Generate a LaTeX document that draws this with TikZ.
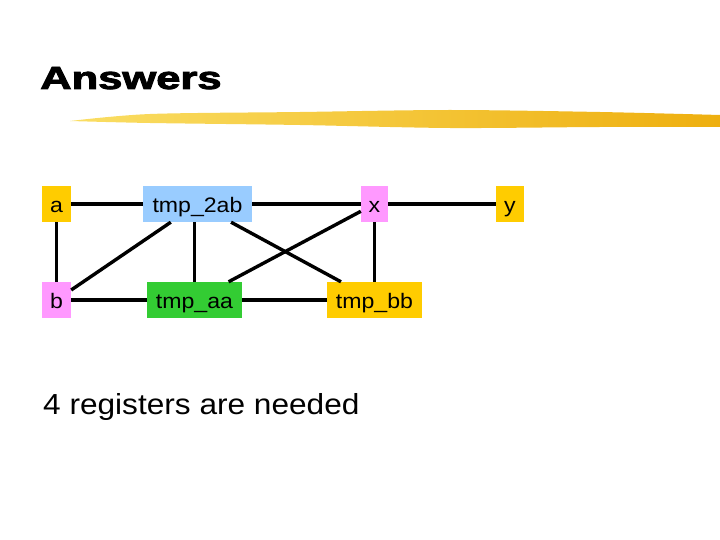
\documentclass[tikz,border=0pt]{standalone}
\usepackage{fontspec}
\setmainfont{Liberation Sans}
\newfontfamily\titlefont[FakeBold=2.5]{Liberation Sans Bold}
\usepackage{graphicx}
\definecolor{cyel}{HTML}{FFCC00}
\definecolor{cblue}{HTML}{99CCFF}
\definecolor{cpink}{HTML}{FF99FF}
\definecolor{cgreen}{HTML}{33CC33}
\newcommand{\sxlab}[1]{\scalebox{1.1}[1]{#1}}
\begin{document}
\begin{tikzpicture}[x=1pt,y=-1pt,
  regbox/.style={rectangle, inner sep=0pt, minimum height=36pt, text=black,
    text height=20pt, text depth=4pt, font=\fontsize{21}{21}\selectfont},
  edge/.style={line width=3.4pt, black}]
\useasboundingbox (0,0) rectangle (720,540);
% brush stroke
\shade[left color={rgb,255:red,250;green,222;blue,100}, middle color={rgb,255:red,245;green,198;blue,35}, right color={rgb,255:red,238;green,175;blue,15}]
  plot[smooth] coordinates {(70,121) (150,114) (300,112) (450,110) (600,112) (720,115)}
  -- plot[smooth] coordinates {(720,127) (600,127) (450,128) (300,125) (150,123) (70,121)} -- cycle;
% title
\node[anchor=base west, inner sep=0pt, font=\fontsize{32}{32}\titlefont] (title) at (40,89) {\scalebox{1.36}[1]{Answers}};
% nodes
\node[regbox, fill=cyel, minimum width=29pt] (a) at (56.5,204) {\sxlab{a}};
\node[regbox, fill=cblue, minimum width=109pt] (t2ab) at (197.5,204) {\sxlab{tmp\_2ab}};
\node[regbox, fill=cpink, minimum width=27pt] (x) at (374.5,204) {\sxlab{x}};
\node[regbox, fill=cyel, minimum width=28pt] (y) at (510,204) {\sxlab{y}};
\node[regbox, fill=cpink, minimum width=29pt] (b) at (56.5,300) {\sxlab{b}};
\node[regbox, fill=cgreen, minimum width=95pt] (taa) at (194.5,300) {\sxlab{tmp\_aa}};
\node[regbox, fill=cyel, minimum width=95pt] (tbb) at (374.5,300) {\sxlab{tmp\_bb}};
% edges
\draw[edge] (a) -- (t2ab);
\draw[edge] (t2ab) -- (x);
\draw[edge] (x) -- (y);
\draw[edge] (a) -- (b);
\draw[edge] (b) -- (taa);
\draw[edge] (taa) -- (tbb);
\draw[edge] (b) -- (t2ab);
\draw[edge] (taa.north) -- (taa.north |- t2ab.south);
\draw[edge] (t2ab) -- (tbb);
\draw[edge] (taa) -- (x);
\draw[edge] (x) -- (tbb);
% footer text
\node[anchor=base west, inner sep=0pt, font=\fontsize{29}{29}\selectfont] (note) at (43,414) {\scalebox{1.09}[1]{4 registers are needed}};
\end{tikzpicture}
\end{document}
